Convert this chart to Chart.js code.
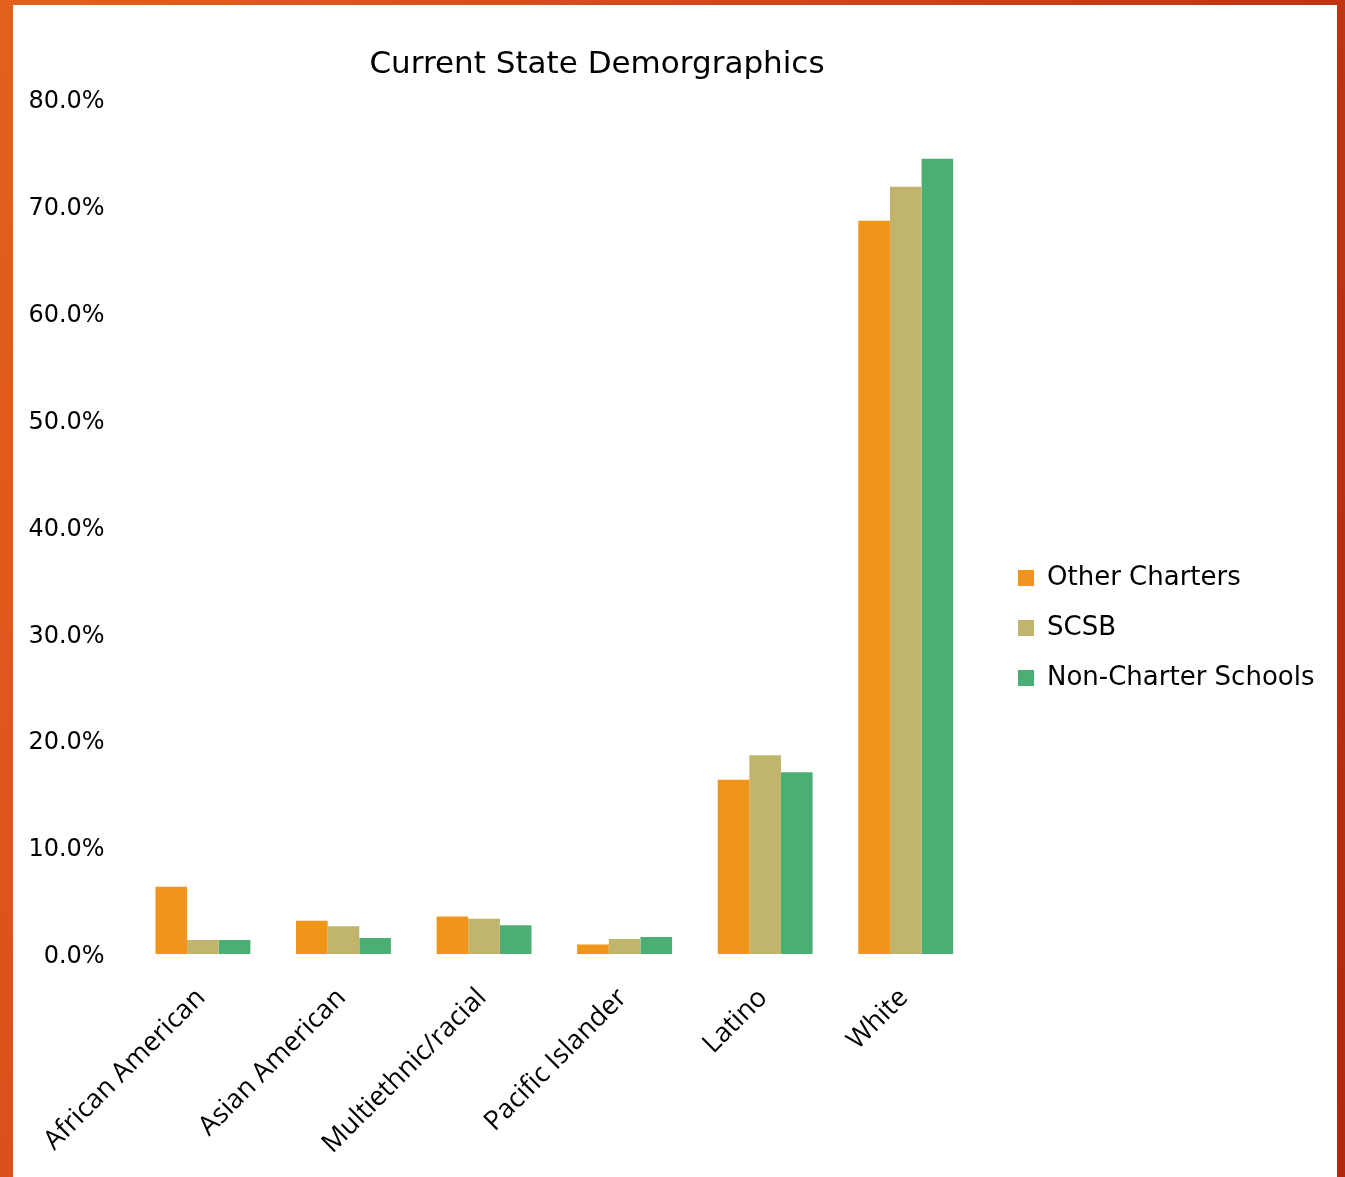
<!DOCTYPE html>
<html>
<head>
<meta charset="utf-8">
<title>Current State Demorgraphics</title>
<script src="https://cdn.jsdelivr.net/npm/chart.js"></script>
<style>
  html, body { margin: 0; padding: 0; }
  body {
    width: 1345px;
    height: 1177px;
    overflow: hidden;
    background: linear-gradient(110deg, #e2611d 0%, #d0451a 45%, #b3260c 100%);
    position: relative;
  }
  #panel {
    position: absolute;
    left: 13px; top: 5px;
    width: 1324px; height: 1172px;
    background: #ffffff;
  }
</style>
</head>
<body>
<div id="panel"><canvas id="demoChart"></canvas></div>
<script>
// ---- data ----
const categories = ["African American", "Asian American", "Multiethnic/racial", "Pacific Islander", "Latino", "White"];
const otherCharters = [6.3, 3.1, 3.5, 0.9, 16.3, 68.6];
const scsb = [1.3, 2.6, 3.3, 1.4, 18.6, 71.8];
const nonCharter = [1.3, 1.5, 2.7, 1.6, 17.0, 74.4];
const seriesNames = ["Other Charters", "SCSB", "Non-Charter Schools"];
const yMax = 80, yStep = 10;

const colors = ["#f0951a", "#c1b46c", "#4baf74"];
const uiFont = "'DejaVu Sans', sans-serif";

// title sits left of centre in the original, so draw it ourselves
const titlePlugin = {
  id: "offsetTitle",
  afterDraw(chart, args, opts) {
    const ctx = chart.ctx;
    ctx.save();
    ctx.font = "31px " + uiFont;
    ctx.fillStyle = "#000";
    ctx.textAlign = "center";
    ctx.textBaseline = "middle";
    ctx.fillText(opts.text, opts.x, opts.y);
    ctx.restore();
  }
};

// nudge the legend away from the plot
const legendShift = {
  id: "legendShift",
  afterLayout(chart, args, opts) {
    const lg = chart.legend;
    lg.left += opts.dx; lg.right += opts.dx;
    lg.top += opts.dy; lg.bottom += opts.dy;
  }
};

const ctx = document.getElementById("demoChart").getContext("2d");
new Chart(ctx, {
  type: "bar",
  data: {
    labels: categories,
    datasets: [
      { label: seriesNames[0], data: otherCharters, backgroundColor: colors[0] },
      { label: seriesNames[1], data: scsb, backgroundColor: colors[1] },
      { label: seriesNames[2], data: nonCharter, backgroundColor: colors[2] }
    ]
  },
  options: {
    responsive: true,
    maintainAspectRatio: false,
    animation: false,
    layout: { padding: { top: 94, right: 40, left: 0, bottom: 0 } },
    datasets: {
      bar: { categoryPercentage: 0.675, barPercentage: 1.0, borderWidth: 0 }
    },
    scales: {
      x: {
        grid: { display: false, drawTicks: false },
        border: { display: false },
        ticks: {
          color: "#000",
          font: { family: "'Open Sans', sans-serif", size: 27 },
          minRotation: 45, maxRotation: 45,
          padding: 28,
          labelOffset: -2
        },
        afterFit(scale) { scale.height = 223; }
      },
      y: {
        min: 0, max: yMax,
        grid: { display: false, drawTicks: false },
        border: { display: false },
        ticks: {
          stepSize: yStep,
          color: "#000",
          font: { family: uiFont, size: 24 },
          padding: 28,
          labelOffset: 3,
          callback: v => v.toFixed(1) + "%"
        },
        afterFit(scale) { scale.width = 118; }
      }
    },
    plugins: {
      offsetTitle: { text: "Current State Demorgraphics", x: 584, y: 60 },
      legendShift: { dx: 18, dy: -10 },
      title: { display: false },
      tooltip: { enabled: false },
      legend: {
        position: "right",
        align: "center",
        labels: {
          color: "#000",
          font: { family: uiFont, size: 26 },
          boxWidth: 16, boxHeight: 16,
          padding: 24
        }
      }
    }
  },
  plugins: [titlePlugin, legendShift]
});
</script>
</body>
</html>
